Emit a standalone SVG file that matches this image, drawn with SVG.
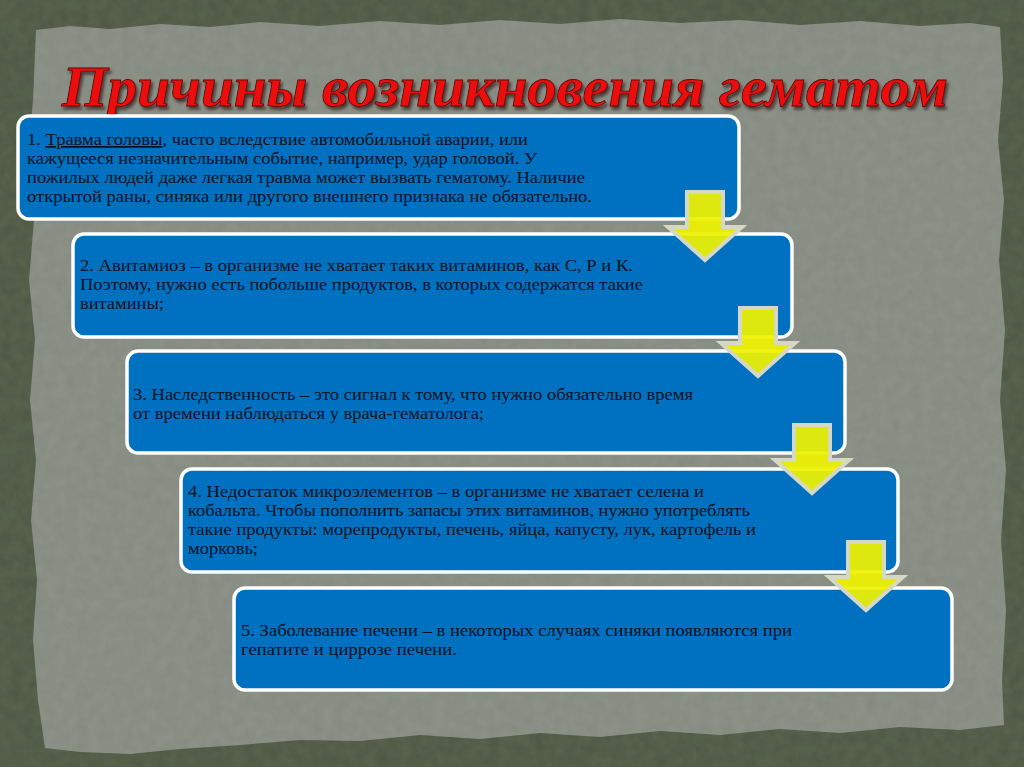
<svg xmlns="http://www.w3.org/2000/svg" width="1024" height="767" viewBox="0 0 1024 767">
<defs>
<filter id="tex" x="0" y="0" width="100%" height="100%">
<feTurbulence type="fractalNoise" baseFrequency="0.09" numOctaves="3" seed="4" result="n"/>
<feColorMatrix in="n" type="matrix" values="0 0 0 0 0  0 0 0 0 0  0 0 0 0 0  0 0 0 0.5 -0.15" result="a"/>
<feComposite in="a" in2="SourceGraphic" operator="in"/>
</filter>
<filter id="shadow" x="-5%" y="-20%" width="110%" height="150%">
<feDropShadow dx="2" dy="3" stdDeviation="1.5" flood-color="#2a1010" flood-opacity="0.7"/>
</filter>
</defs>
<style>
.box{fill:#0070c0;stroke:#ffffff;stroke-width:3.5}
.t{font-family:"Liberation Serif","Times New Roman",serif;font-size:17.5px;fill:#0e1220}
.arrow{fill:#eef200;fill-opacity:0.93;stroke:#d6d8c6;stroke-width:4;stroke-linejoin:miter}
.title{font-family:"Liberation Serif","Times New Roman",serif;font-size:56px;font-weight:bold;font-style:italic;fill:#ee0a0a;stroke:#5a0808;stroke-width:0.8}
</style>
<rect x="0" y="0" width="1024" height="767" fill="#57624d"/>
<rect x="0" y="0" width="1024" height="767" fill="#3d4536" filter="url(#tex)" opacity="0.35"/>
<path id="paper" d="M36 30 L70 26 L110 29 L160 24 L210 27 L260 22 L320 26 L380 21 L440 25 L500 20 L560 24 L620 19 L680 23 L740 20 L800 25 L860 21 L920 26 L970 23 L1000 27 L1003 80 L998 140 L1004 200 L999 260 L1005 330 L1000 400 L1006 470 L1001 540 L1006 610 L1002 680 L1004 725 L960 730 L900 727 L840 733 L780 729 L720 735 L660 731 L600 737 L540 733 L480 739 L420 735 L360 741 L300 740 L240 745 L180 749 L130 754 L80 752 L45 748 L38 700 L33 640 L37 580 L31 520 L36 460 L30 400 L35 340 L29 280 L34 220 L28 160 L33 100 Z" fill="#8b9186"/>
<path d="M36 30 L70 26 L110 29 L160 24 L210 27 L260 22 L320 26 L380 21 L440 25 L500 20 L560 24 L620 19 L680 23 L740 20 L800 25 L860 21 L920 26 L970 23 L1000 27 L1003 80 L998 140 L1004 200 L999 260 L1005 330 L1000 400 L1006 470 L1001 540 L1006 610 L1002 680 L1004 725 L960 730 L900 727 L840 733 L780 729 L720 735 L660 731 L600 737 L540 733 L480 739 L420 735 L360 741 L300 740 L240 745 L180 749 L130 754 L80 752 L45 748 L38 700 L33 640 L37 580 L31 520 L36 460 L30 400 L35 340 L29 280 L34 220 L28 160 L33 100 Z" fill="#6a7062" filter="url(#tex)" opacity="0.15"/>
<g id="title" filter="url(#shadow)">
<text class="title" x="62" y="106" textLength="886" lengthAdjust="spacingAndGlyphs">Причины возникновения гематом</text>
</g>
<g id="node1">
<rect class="box" x="18" y="116" width="721" height="103" rx="11"/>
<text class="t" x="27" y="145" textLength="501" lengthAdjust="spacingAndGlyphs">1. <tspan text-decoration="underline">Травма головы</tspan>, часто вследствие автомобильной аварии, или</text>
<text class="t" x="27" y="164" textLength="510" lengthAdjust="spacingAndGlyphs">кажущееся незначительным событие, например, удар головой. У</text>
<text class="t" x="27" y="183" textLength="558" lengthAdjust="spacingAndGlyphs">пожилых людей даже легкая травма может вызвать гематому. Наличие</text>
<text class="t" x="27" y="202" textLength="565" lengthAdjust="spacingAndGlyphs">открытой раны, синяка или другого внешнего признака не обязательно.</text>
</g>
<g id="node2">
<rect class="box" x="73" y="234" width="719" height="103" rx="11"/>
<text class="t" x="80" y="271" textLength="553" lengthAdjust="spacingAndGlyphs">2. Авитамиоз – в организме не хватает таких витаминов, как С, Р и К.</text>
<text class="t" x="80" y="290" textLength="563" lengthAdjust="spacingAndGlyphs">Поэтому, нужно есть побольше продуктов, в которых содержатся такие</text>
<text class="t" x="80" y="309" textLength="84" lengthAdjust="spacingAndGlyphs">витамины;</text>
</g>
<g id="node3">
<rect class="box" x="127" y="351" width="718" height="102" rx="11"/>
<text class="t" x="133" y="400" textLength="560" lengthAdjust="spacingAndGlyphs">3. Наследственность – это сигнал к тому, что нужно обязательно время</text>
<text class="t" x="133" y="419" textLength="351" lengthAdjust="spacingAndGlyphs">от времени наблюдаться у врача-гематолога;</text>
</g>
<g id="node4">
<rect class="box" x="181" y="469" width="717" height="103" rx="11"/>
<text class="t" x="188" y="497" textLength="516" lengthAdjust="spacingAndGlyphs">4. Недостаток микроэлементов – в организме не хватает селена и</text>
<text class="t" x="188" y="516" textLength="562" lengthAdjust="spacingAndGlyphs">кобальта. Чтобы пополнить запасы этих витаминов, нужно употреблять</text>
<text class="t" x="188" y="535" textLength="568" lengthAdjust="spacingAndGlyphs">такие продукты: морепродукты, печень, яйца, капусту, лук, картофель и</text>
<text class="t" x="188" y="554" textLength="70" lengthAdjust="spacingAndGlyphs">морковь;</text>
</g>
<g id="node5">
<rect class="box" x="234" y="588" width="718" height="102" rx="11"/>
<text class="t" x="241" y="636" textLength="551" lengthAdjust="spacingAndGlyphs">5. Заболевание печени – в некоторых случаях синяки появляются при</text>
<text class="t" x="241" y="655" textLength="216" lengthAdjust="spacingAndGlyphs">гепатите и циррозе печени.</text>
</g>
<g id="connectors">
<path class="arrow" d="M687 192 L723 192 L723 227 L742 227 L705 260 L668 227 L687 227 Z"/>
<path class="arrow" d="M740 308 L776 308 L776 343 L795 343 L758 376 L721 343 L740 343 Z"/>
<path class="arrow" d="M794 425 L830 425 L830 460 L849 460 L812 493 L775 460 L794 460 Z"/>
<path class="arrow" d="M848 542 L884 542 L884 577 L903 577 L866 610 L829 577 L848 577 Z"/>
</g>
</svg>
